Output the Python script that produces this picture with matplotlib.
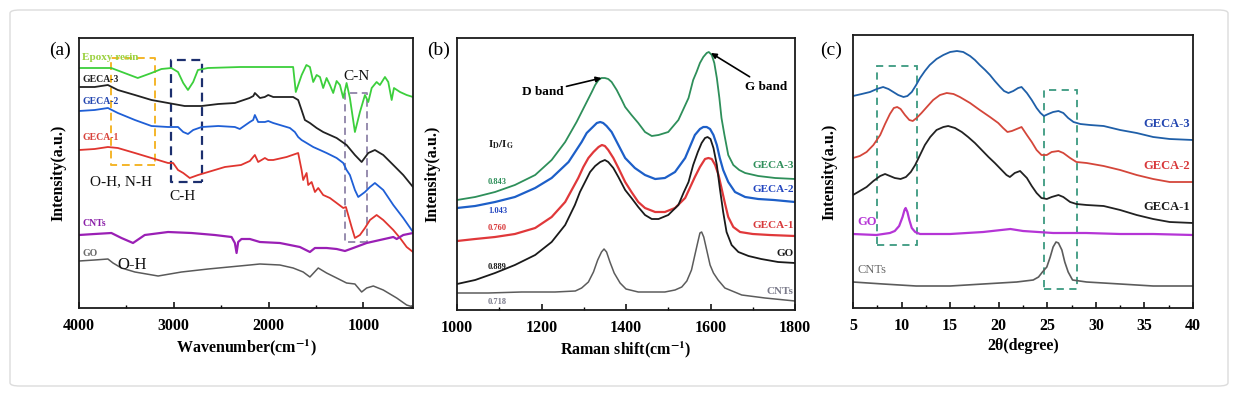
import matplotlib
matplotlib.use("Agg")
import matplotlib.pyplot as plt
from matplotlib.patches import Rectangle, FancyBboxPatch
from matplotlib.ticker import MultipleLocator

plt.rcParams['font.family'] = ['Liberation Serif', 'DejaVu Serif']
plt.rcParams['mathtext.fontset'] = 'stix'

# ---------------- Panel (a): FTIR ----------------
a_epoxy_wn = [4000, 3660, 3520, 3380, 3235, 3130, 3025, 2955, 2900, 2850, 2795, 2745, 2640, 2300, 1740, 1712,
              1650, 1600, 1563, 1528, 1492, 1457, 1423, 1387, 1352, 1317, 1281, 1246, 1211, 1176, 1141, 1088,
              1035, 982, 947, 911, 859, 824, 771, 736, 700, 676, 612, 542, 475]
a_epoxy_I = [240, 240, 235, 230, 235, 239, 240, 236, 225, 218, 226, 238, 240, 241, 241, 216,
             233, 243, 241, 226, 233, 231, 220, 230, 223, 215, 227, 223, 210, 225, 210, 176,
             196, 213, 206, 220, 226, 223, 231, 226, 208, 220, 216, 213, 211]

a_geca3_wn = [4000, 3835, 3695, 3590, 3410, 3235, 3060, 2885, 2705, 2530, 2355, 2200, 2160, 2144, 2090, 2040,
              2003, 1950, 1740, 1687, 1651, 1616, 1563, 1492, 1423, 1352, 1281, 1176, 1088, 1017, 947, 877,
              789, 683, 578, 475]
a_geca3_I = [221, 221, 223, 218, 213, 208, 205, 202, 202, 204, 205, 210, 212, 215, 210, 211,
             213, 211, 211, 208, 198, 188, 185, 180, 176, 173, 170, 163, 153, 146, 155, 158,
             153, 143, 133, 121]

a_geca2_wn = [4000, 3835, 3695, 3590, 3410, 3235, 3060, 2955, 2900, 2850, 2795, 2705, 2530, 2355, 2303, 2197,
              2162, 2144, 2109, 2038, 2003, 1950, 1774, 1722, 1687, 1651, 1598, 1528, 1457, 1387, 1281, 1211,
              1176, 1141, 1088, 1053, 982, 929, 877, 789, 683, 578, 475]
a_geca2_I = [197, 198, 200, 195, 188, 182, 181, 181, 176, 174, 178, 181, 182, 181, 179, 186,
             188, 193, 186, 186, 187, 185, 180, 176, 171, 168, 165, 161, 158, 155, 150, 145,
             138, 133, 118, 111, 116, 121, 125, 118, 103, 90, 76]

a_geca1_wn = [4000, 3835, 3695, 3590, 3410, 3235, 3060, 3007, 2955, 2900, 2831, 2743, 2637, 2461, 2290, 2197,
              2144, 2109, 2038, 2003, 1950, 1809, 1687, 1651, 1634, 1598, 1581, 1545, 1510, 1475, 1423, 1352,
              1281, 1211, 1183, 1159, 1123, 1088, 1035, 982, 929, 859, 789, 683, 612, 542, 475]
a_geca1_I = [158, 159, 161, 160, 155, 150, 145, 145, 138, 135, 130, 133, 136, 141, 143, 147,
             153, 146, 150, 148, 148, 151, 155, 138, 128, 135, 123, 126, 116, 120, 113, 110,
             105, 100, 101, 93, 81, 70, 73, 80, 88, 93, 88, 78, 70, 61, 56]

a_cnts_wn = [4000, 3835, 3658, 3552, 3430, 3306, 3060, 2813, 2567, 2390, 2355, 2337, 2320, 2285, 2197, 2091,
             1880, 1669, 1563, 1510, 1387, 1281, 1193, 1106, 964, 824, 683, 647, 578, 475]
a_cnts_I = [73, 74, 75, 70, 65, 73, 76, 75, 73, 71, 65, 55, 66, 69, 69, 66,
            65, 61, 56, 60, 60, 59, 57, 60, 65, 68, 71, 69, 73, 75]

a_go_wn = [4000, 3835, 3695, 3641, 3552, 3410, 3165, 2918, 2637, 2197, 2091, 1880, 1740, 1634, 1563, 1475,
           1387, 1281, 1176, 1088, 1017, 964, 894, 789, 647, 542, 475]
a_go_I = [47, 48, 49, 45, 40, 36, 32, 36, 39, 43, 44, 43, 40, 36, 31, 40,
          35, 30, 25, 24, 16, 20, 22, 18, 10, 3, 1]

a_names = ["Epoxy resin", "GECA-3", "GECA-2", "GECA-1", "CNTs", "GO"]
a_xticks = [4000, 3000, 2000, 1000]

# ---------------- Panel (b): Raman ----------------
b_geca3_x = [1000, 1043, 1090, 1137, 1185, 1224, 1256, 1283, 1307, 1319, 1327, 1335, 1342, 1350, 1358, 1366,
             1378, 1390, 1398, 1413, 1429, 1445, 1461, 1477, 1500, 1524, 1548, 1559, 1567, 1575, 1583, 1591,
             1596, 1603, 1609, 1615, 1621, 1626, 1633, 1642, 1654, 1668, 1682, 1713, 1753, 1800]
b_geca3_I = [110, 113, 118, 125, 135, 150, 168, 188, 208, 218, 225, 230, 232, 232, 231, 228,
             220, 210, 203, 195, 187, 178, 174, 175, 178, 190, 212, 230, 238, 247, 253, 257,
             258, 255, 247, 232, 212, 192, 175, 155, 145, 140, 137, 134, 132, 131]

b_geca2_x = [1000, 1043, 1090, 1137, 1185, 1224, 1264, 1295, 1307, 1319, 1331, 1339, 1346, 1354, 1366, 1382,
             1398, 1421, 1445, 1469, 1492, 1516, 1540, 1551, 1563, 1575, 1583, 1591, 1599, 1607, 1615, 1622,
             1630, 1642, 1658, 1682, 1713, 1750, 1800]
b_geca2_I = [102, 104, 108, 113, 122, 132, 148, 168, 177, 182, 187, 188, 187, 184, 178, 165,
             152, 142, 135, 131, 132, 138, 152, 163, 175, 181, 183, 183, 181, 175, 165, 152,
             140, 128, 118, 113, 111, 110, 108]

b_geca1_x = [1000, 1043, 1090, 1137, 1185, 1224, 1256, 1287, 1299, 1311, 1323, 1335, 1343, 1350, 1358, 1370,
             1382, 1398, 1413, 1429, 1445, 1469, 1492, 1516, 1540, 1551, 1563, 1575, 1587, 1595, 1603, 1611,
             1619, 1626, 1634, 1642, 1654, 1670, 1700, 1740, 1800]
b_geca1_I = [69, 71, 73, 76, 82, 93, 108, 132, 143, 152, 158, 163, 165, 164, 160, 152,
             142, 128, 118, 108, 102, 98, 98, 102, 112, 122, 133, 143, 151, 152, 151, 145,
             135, 122, 107, 93, 83, 78, 76, 75, 74]

b_go_x = [1000, 1043, 1090, 1137, 1185, 1224, 1256, 1279, 1291, 1303, 1315, 1327, 1339, 1350, 1358, 1370,
          1382, 1398, 1413, 1429, 1445, 1461, 1477, 1500, 1524, 1536, 1548, 1559, 1570, 1579, 1587, 1593,
          1600, 1607, 1615, 1622, 1630, 1638, 1650, 1666, 1690, 1720, 1760, 1800]
b_go_I = [26, 30, 37, 45, 55, 68, 85, 105, 118, 128, 138, 144, 148, 150, 148, 142,
          133, 120, 112, 103, 95, 91, 91, 95, 105, 117, 128, 145, 158, 167, 172, 173,
          171, 162, 145, 122, 98, 78, 65, 58, 54, 51, 48, 47]

b_cnts_x = [1000, 1074, 1153, 1232, 1280, 1295, 1311, 1323, 1333, 1342, 1348, 1354, 1362, 1372, 1386, 1400,
            1429, 1461, 1492, 1516, 1532, 1544, 1555, 1563, 1570, 1575, 1579, 1584, 1591, 1599, 1607, 1618,
            1634, 1674, 1729, 1800]
b_cnts_I = [17, 17, 18, 18, 19, 22, 28, 38, 50, 58, 61, 58, 48, 37, 27, 21,
            18, 18, 18, 20, 23, 29, 40, 55, 68, 77, 78, 73, 60, 45, 37, 30,
            22, 15, 12, 9]

b_names = ["GECA-3", "GECA-2", "GECA-1", "GO", "CNTs"]
b_ratios = ["0.843", "1.043", "0.760", "0.889", "0.718"]
b_xticks = [1000, 1200, 1400, 1600, 1800]

# ---------------- Panel (c): XRD ----------------
c_geca3_t = [5.0, 5.9, 6.75, 7.45, 8.1, 8.65, 9.15, 9.65, 10.2, 10.6, 11.05, 11.5, 11.9, 12.4, 12.9, 13.6,
             14.3, 15.0, 15.7, 16.35, 17.05, 17.55, 18.05, 18.6, 19.1, 19.6, 20.15, 20.55, 21.0, 21.5, 22.0,
             22.35, 22.9, 23.4, 23.9, 24.3, 24.65, 25.1, 25.6, 26.15, 26.65, 27.15, 27.7, 28.4, 29.4, 30.8,
             32.5, 34.2, 35.9, 37.6, 40.0]
c_geca3_I = [212, 214, 216, 219, 221, 219, 216, 213, 211, 212, 216, 223, 230, 237, 243, 249,
             253, 256, 257, 256, 252, 248, 243, 238, 233, 227, 221, 217, 215, 217, 220,
             221, 215, 208, 200, 195, 192, 194, 196, 197, 195, 190, 186, 184, 183, 182,
             178, 175, 171, 169, 168]

c_geca2_t = [5.0, 5.7, 6.4, 7.1, 7.8, 8.3, 8.8, 9.2, 9.55, 9.9, 10.35, 10.8, 11.15, 11.55, 12.05, 12.6,
             13.25, 13.95, 14.65, 15.35, 16.0, 17.05, 18.05, 19.1, 19.95, 20.45, 20.9, 21.35, 21.85, 22.35,
             22.9, 23.4, 23.9, 24.4, 24.95, 25.45, 26.15, 26.65, 27.35, 28.0, 29.05, 30.8, 32.5, 34.2, 35.9,
             37.6, 40.0]
c_geca2_I = [150, 152, 156, 163, 173, 184, 194, 200, 201, 199, 193, 188, 187, 190, 195, 201,
             208, 213, 215, 214, 211, 205, 198, 191, 185, 180, 176, 177, 179, 181,
             173, 166, 158, 153, 153, 156, 157, 155, 150, 146, 145, 142, 138, 133, 129,
             126, 126]

c_geca1_t = [5.0, 5.7, 6.4, 7.1, 7.8, 8.3, 8.8, 9.3, 9.9, 10.45, 10.95, 11.4, 11.9, 12.4, 12.95, 13.6,
             14.3, 14.8, 15.5, 16.2, 16.85, 17.55, 18.25, 18.95, 19.6, 20.3, 20.8, 21.15, 21.65, 22.2,
             22.9, 23.4, 23.9, 24.4, 24.95, 25.45, 26.15, 26.65, 27.35, 28.0, 29.05, 30.8, 32.5, 34.2, 35.9,
             37.6, 40.0]
c_geca1_I = [113, 117, 121, 127, 132, 134, 132, 130, 129, 131, 136, 143, 153, 163, 171, 178,
             181, 182, 180, 176, 171, 165, 158, 151, 145, 138, 133, 131, 135, 137,
             130, 122, 115, 110, 109, 111, 113, 111, 106, 104, 103, 102, 98, 93, 89,
             86, 85]

c_go_t = [5.0, 7.4, 8.8, 9.3, 9.75, 10.1, 10.3, 10.42, 10.6, 10.8, 11.05, 11.4, 11.9, 15.0, 18.4, 21.2,
          22.5, 25.6, 29.0, 32.5, 35.9, 40.0]
c_go_I = [74, 73, 75, 77, 82, 91, 98, 100, 96, 88, 80, 76, 74, 74, 76, 79,
          77, 75, 75, 74, 74, 73]

c_cnts_t = [5.0, 8.1, 11.5, 15.0, 18.4, 21.85, 23.55, 24.1, 24.5, 24.95, 25.3, 25.6, 25.9, 26.15, 26.5, 26.8,
            27.15, 27.6, 29.05, 32.5, 35.9, 40.0]
c_cnts_I = [26, 24, 22, 22, 24, 26, 28, 31, 36, 41, 51, 61, 66, 65, 58, 46,
            36, 28, 26, 24, 22, 22]

c_names = ["GECA-3", "GECA-2", "GECA-1", "GO", "CNTs"]
c_xticks = [5, 10, 15, 20, 25, 30, 35, 40]

# ---------------- Figure ----------------
W, H = 1238, 396
fig = plt.figure(figsize=(W / 100, H / 100), dpi=100)
fig.patch.set_facecolor('white')

# light outer frame
fig.patches.append(FancyBboxPatch((10 / W, 10 / H), 1218 / W, 376 / H,
                                  boxstyle="round,pad=0,rounding_size=0.008",
                                  transform=fig.transFigure, fill=False,
                                  edgecolor='#dcdcdc', linewidth=1.0))


def px_axes(l, t, r, b):
    return fig.add_axes([l / W, 1 - b / H, (r - l) / W, (b - t) / H])


def style(ax, xticks, minor, xlabel, ylabelpad):
    for s in ax.spines.values():
        s.set_linewidth(1.3)
        s.set_color('#1a1a1a')
    ax.set_xticks(xticks)
    ax.xaxis.set_minor_locator(MultipleLocator(minor))
    ax.set_yticks([])
    ax.tick_params(axis='x', which='both', direction='in', pad=7)
    ax.tick_params(axis='x', which='major', length=4, width=1.1)
    ax.tick_params(axis='x', which='minor', length=2.5, width=1.0)
    for lab in ax.get_xticklabels():
        lab.set_fontweight('bold')
        lab.set_fontsize(11.5)
    ax.set_xlabel(xlabel, fontsize=11.5, fontweight='bold', labelpad=3)
    ax.set_ylabel('Intensity(a.u.)', fontsize=11.5, fontweight='bold', labelpad=ylabelpad)


# ----- (a)
axa = px_axes(79, 38, 413, 308)
lw = 1.3
a_cols = ['#3ccf3c', '#222222', '#1f5fd6', '#e0352f', '#9a1fb5', '#5a5a5a']
axa.plot(a_epoxy_wn, a_epoxy_I, color=a_cols[0], lw=lw)
axa.plot(a_geca3_wn, a_geca3_I, color=a_cols[1], lw=lw)
axa.plot(a_geca2_wn, a_geca2_I, color=a_cols[2], lw=lw)
axa.plot(a_geca1_wn, a_geca1_I, color=a_cols[3], lw=lw)
axa.plot(a_cnts_wn, a_cnts_I, color=a_cols[4], lw=1.6)
axa.plot(a_go_wn, a_go_I, color=a_cols[5], lw=1.1)
axa.set_xlim(4000, 475)
axa.set_ylim(0, 270)
style(axa, a_xticks, 500, 'Wavenumber(cm$^{\\mathbf{-1}}$)', 9)

a_label_I = [250, 228, 207, 171, 85, 55]
a_label_cols = ['#9bd13f', '#222222', '#2346b0', '#d8423a', '#8a1fa8', '#6a6a6a']
a_label_size = [8, 7, 7, 7, 7, 7]
for name, yv, col, fs in zip(a_names, a_label_I, a_label_cols, a_label_size):
    axa.text(3965, yv, name, color=col, fontsize=fs, fontweight='bold', ha='left', va='center')

# dashed boxes
axa.add_patch(Rectangle((3200, 143), 458, 107, fill=False, ls=(0, (4, 2.5)), lw=1.4,
                        edgecolor='#f4b62a', joinstyle='round'))
axa.add_patch(Rectangle((2707, 126), 324, 122, fill=False, ls=(0, (4, 2.5)), lw=1.6,
                        edgecolor='#1c2f6e', joinstyle='round'))
axa.add_patch(Rectangle((958, 66), 235, 149, fill=False, ls=(0, (4, 2.5)), lw=1.3,
                        edgecolor='#8f84a8', joinstyle='round'))
axa.text(3887, 126, 'O-H, N-H', fontsize=11, ha='left', va='center', color='#111111')
axa.text(3041, 111, 'C-H', fontsize=11, ha='left', va='center', color='#111111')
axa.text(1213, 231, 'C-N', fontsize=11, ha='left', va='center', color='#111111')
axa.text(3591, 43, 'O-H', fontsize=12, ha='left', va='center', color='#111111')
fig.text(60 / W, 1 - 50 / H, '(a)', fontsize=14, ha='center', va='center')

# ----- (b)
axb = px_axes(457, 38, 795, 310)
b_cols = ['#2e8f5a', '#1d5fc8', '#e0383a', '#1a1a1a', '#5c5c5c']
axb.plot(b_geca3_x, b_geca3_I, color=b_cols[0], lw=lw)
axb.plot(b_geca2_x, b_geca2_I, color=b_cols[1], lw=1.6)
axb.plot(b_geca1_x, b_geca1_I, color=b_cols[2], lw=1.6)
axb.plot(b_go_x, b_go_I, color=b_cols[3], lw=lw)
axb.plot(b_cnts_x, b_cnts_I, color=b_cols[4], lw=1.1)
axb.set_xlim(1000, 1800)
axb.set_ylim(0, 272)
style(axb, b_xticks, 100, 'Raman shift(cm$^{\\mathbf{-1}}$)', 12)

b_label_I = [145, 121, 84, 57, 18]
b_label_cols = ['#2e8f5a', '#2346c0', '#d8383a', '#1a1a1a', '#7a7a8a']
for name, yv, col in zip(b_names, b_label_I, b_label_cols):
    axb.text(1797, yv, name, color=col, fontsize=8, fontweight='bold', ha='right', va='center')
b_ratio_I = [128, 99, 82, 43, 8]
for r, yv, col in zip(b_ratios, b_ratio_I, b_label_cols):
    axb.text(1073, yv, r, color=col, fontsize=6, fontweight='bold', ha='left', va='center')
axb.text(1073, 165, '$\\mathbf{I_D/I_G}$', fontsize=8, ha='left', va='center', color='#222222')
axb.annotate('D band', xy=(1342, 232), xytext=(1154, 218), fontsize=9.5, fontweight='bold',
             ha='left', va='center',
             arrowprops=dict(arrowstyle='-|>', color='black', lw=1.2, mutation_scale=8,
                             shrinkA=0, shrinkB=0))
axb.annotate('G band', xy=(1601, 257), xytext=(1682, 223), fontsize=9.5, fontweight='bold',
             ha='left', va='center',
             arrowprops=dict(arrowstyle='-|>', color='black', lw=1.2, mutation_scale=8,
                             shrinkA=2, shrinkB=0))
fig.text(439 / W, 1 - 50 / H, '(b)', fontsize=14, ha='center', va='center')

# ----- (c)
axc = px_axes(853, 35, 1193, 308)
c_cols = ['#1f5fa8', '#d4463a', '#222222', '#b535d6', '#5c5c5c']
axc.plot(c_geca3_t, c_geca3_I, color=c_cols[0], lw=lw)
axc.plot(c_geca2_t, c_geca2_I, color=c_cols[1], lw=lw)
axc.plot(c_geca1_t, c_geca1_I, color=c_cols[2], lw=lw)
axc.plot(c_go_t, c_go_I, color=c_cols[3], lw=1.6)
axc.plot(c_cnts_t, c_cnts_I, color=c_cols[4], lw=1.2)
axc.set_xlim(5, 40)
axc.set_ylim(0, 273)
style(axc, c_xticks, 2.5, '2θ(degree)', 11)

c_label_I = [184, 142, 101]
c_label_cols = ['#2346b0', '#d8383a', '#1a1a1a']
for name, yv, col in zip(c_names[:3], c_label_I, c_label_cols):
    axc.text(39.7, yv, name, color=col, fontsize=9, fontweight='bold', ha='right', va='center')
axc.text(5.5, 86, c_names[3], color='#b535d6', fontsize=9, fontweight='bold', ha='left', va='center')
axc.text(5.5, 38, c_names[4], color='#6a6a6a', fontsize=9, ha='left', va='center')
axc.add_patch(Rectangle((7.44, 63), 4.12, 179, fill=False, ls=(0, (4, 3)), lw=1.3,
                        edgecolor='#3c9a80'))
axc.add_patch(Rectangle((24.69, 19), 3.33, 199, fill=False, ls=(0, (4, 3)), lw=1.3,
                        edgecolor='#3c9a80'))
fig.text(831 / W, 1 - 50 / H, '(c)', fontsize=14, ha='center', va='center')

fig.savefig('out.png', dpi=100)
